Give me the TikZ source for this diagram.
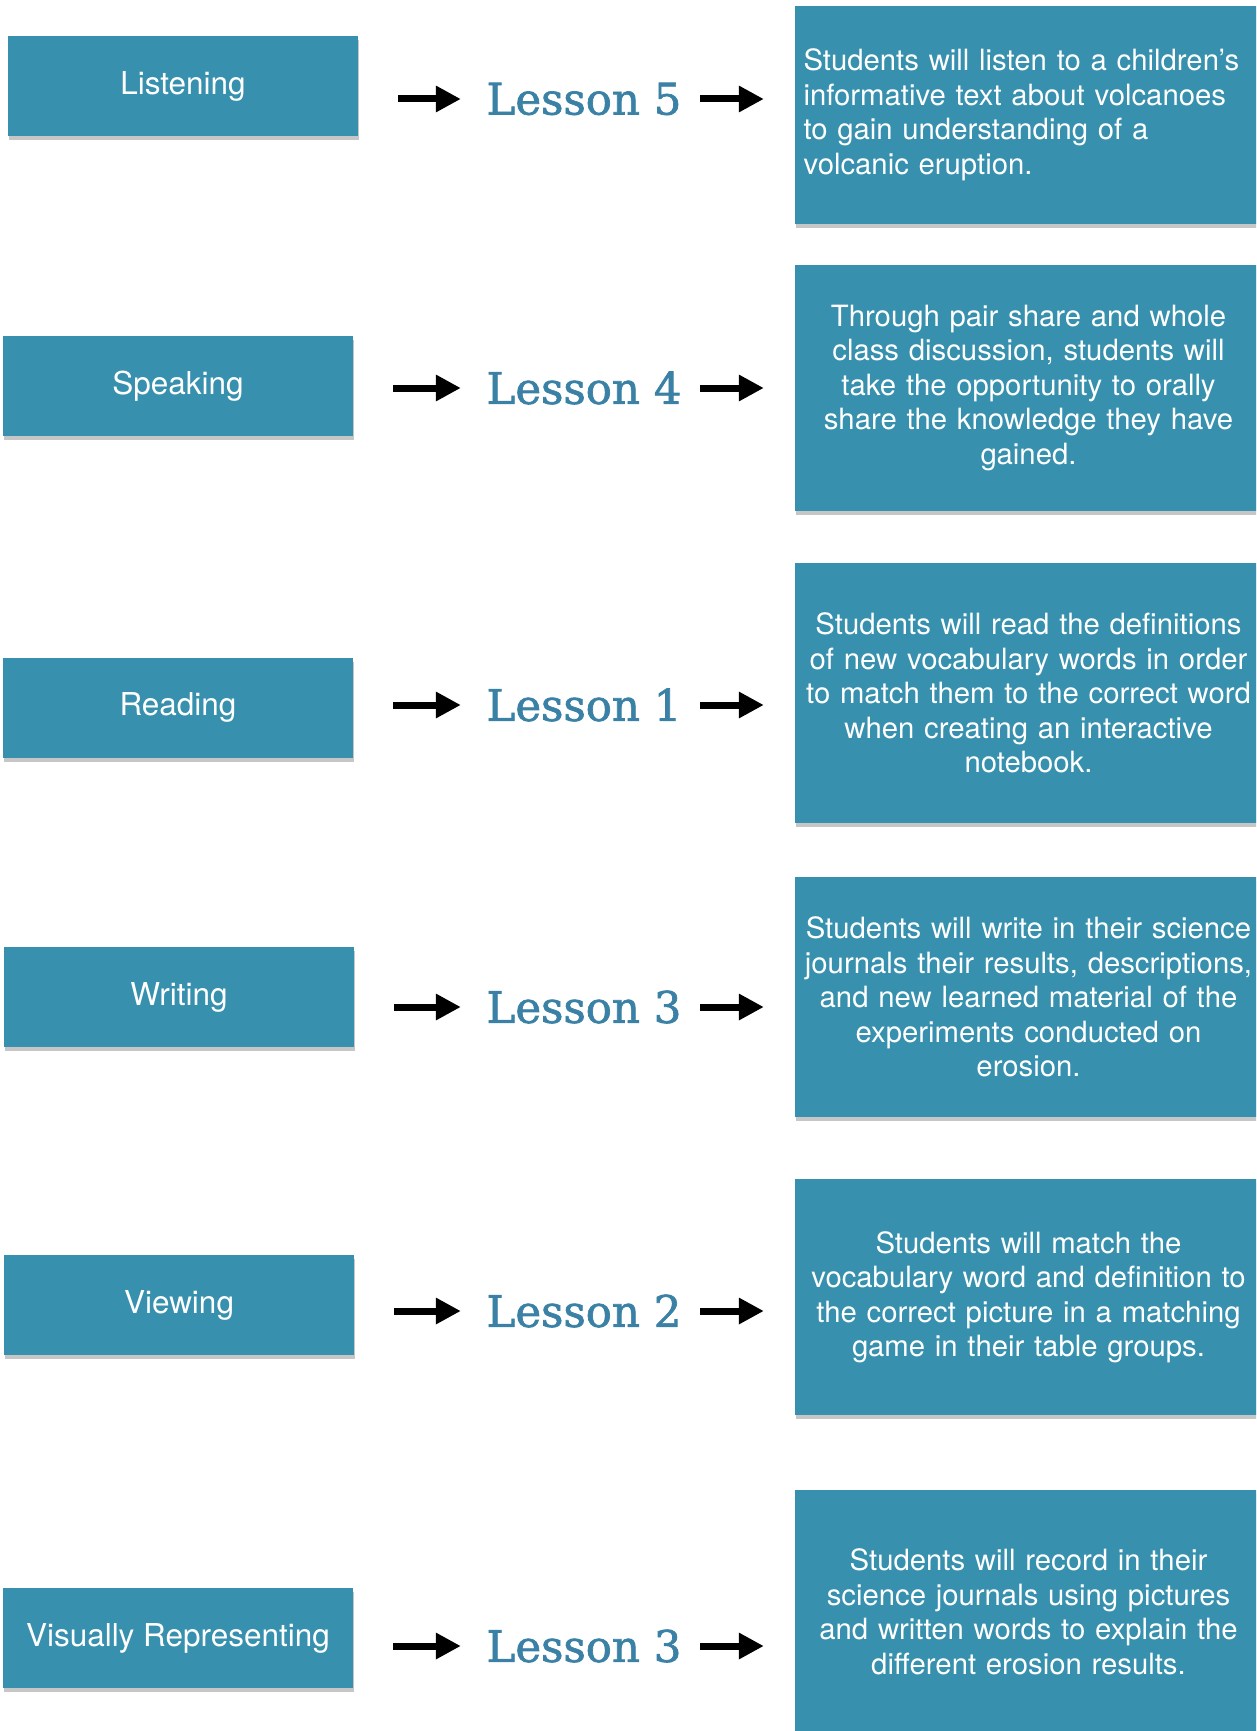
\documentclass[tikz,border=0pt]{standalone}
\usepackage{fontspec}
\setmainfont{TeX Gyre Heros}
\newfontfamily\lessonfont[FakeBold=1.6]{DejaVu Serif}
\usetikzlibrary{arrows.meta,shadows}
\definecolor{boxblue}{HTML}{3690AE}
\definecolor{lessonblue}{HTML}{3A81A5}

\begin{document}
\begin{tikzpicture}[
			x=1pt, y=-1pt,
			boxshadow/.style={drop shadow={shadow xshift=1pt, shadow yshift=-4pt, opacity=0.28, fill=black!80}},
			skill/.style={boxshadow, fill=boxblue, text=white, minimum width=350pt, minimum height=100pt, inner sep=0pt, font=\fontsize{31.5}{38}\selectfont},
			activity/.style={boxshadow, fill=boxblue, text=white, minimum width=467pt, inner xsep=8.5pt, text width=450pt, align=center, font=\fontsize{29.3}{34.5}\selectfont},
			lesson/.style={text=lessonblue, minimum width=246pt, inner sep=0pt, font=\lessonfont\fontsize{43.5}{50}\selectfont},
			arr/.style={line width=7pt, -{Triangle[length=25pt, width=25pt]}},
			larr/.style={arr, shorten <=40pt},
			rarr/.style={arr, shorten <=-7pt, shorten >=31pt}
			]
			\useasboundingbox (0,0) rectangle (1256,1731);
			\clip (0,0) rectangle (1256,1731);

			\node[skill] (listen) at (183,86) {Listening};
			\node[skill] (speak) at (178,386) {Speaking};
			\node[skill] (read) at (178,707.5) {Reading};
			\node[skill] (write) at (179,997) {Writing};
			\node[skill] (view) at (179,1305) {Viewing};
			\node[skill] (visual) at (178,1638) {Visually Representing};

			\node[lesson] (les5) at (584,99) {Lesson 5};
			\node[lesson] (les4) at (584,388) {Lesson 4};
			\node[lesson] (les1) at (584,705) {Lesson 1};
			\node[lesson] (les3a) at (584,1007) {Lesson 3};
			\node[lesson] (les2) at (584,1311) {Lesson 2};
			\node[lesson] (les3b) at (584,1646) {Lesson 3};

			\node[activity, align=left, minimum height=218pt] (act5) at (1028.5,115) {Students will listen to a children’s\\informative text about volcanoes\\to gain understanding of a\\volcanic eruption.};
			\node[activity, minimum height=246pt] (act4) at (1028.5,388) {Through pair share and whole\\class discussion, students will\\take the opportunity to orally\\share the knowledge they have\\gained.};
			\node[activity, minimum height=260pt] (act1) at (1028.5,693) {Students will read the definitions\\of new vocabulary words in order\\to match them to the correct word\\when creating an interactive\\notebook.};
			\node[activity, minimum height=240pt] (act3a) at (1028.5,997) {Students will write in their science\\journals their results, descriptions,\\and new learned material of the\\experiments conducted on\\erosion.};
			\node[activity, minimum height=236pt] (act2) at (1028.5,1297) {Students will match the\\vocabulary word and definition to\\the correct picture in a matching\\game in their table groups.};
			\node[activity, minimum height=244pt] (act3b) at (1028.5,1612) {Students will record in their\\science journals using pictures\\and written words to explain the\\different erosion results.};

			\draw[larr] (listen.east |- les5.west) -- (les5.west);
			\draw[rarr] (les5.east) -- (act5.west |- les5.east);
			\draw[larr] (speak.east |- les4.west) -- (les4.west);
			\draw[rarr] (les4.east) -- (act4.west |- les4.east);
			\draw[larr] (read.east |- les1.west) -- (les1.west);
			\draw[rarr] (les1.east) -- (act1.west |- les1.east);
			\draw[larr] (write.east |- les3a.west) -- (les3a.west);
			\draw[rarr] (les3a.east) -- (act3a.west |- les3a.east);
			\draw[larr] (view.east |- les2.west) -- (les2.west);
			\draw[rarr] (les2.east) -- (act2.west |- les2.east);
			\draw[larr] (visual.east |- les3b.west) -- (les3b.west);
			\draw[rarr] (les3b.east) -- (act3b.west |- les3b.east);
		\end{tikzpicture}
\end{document}
